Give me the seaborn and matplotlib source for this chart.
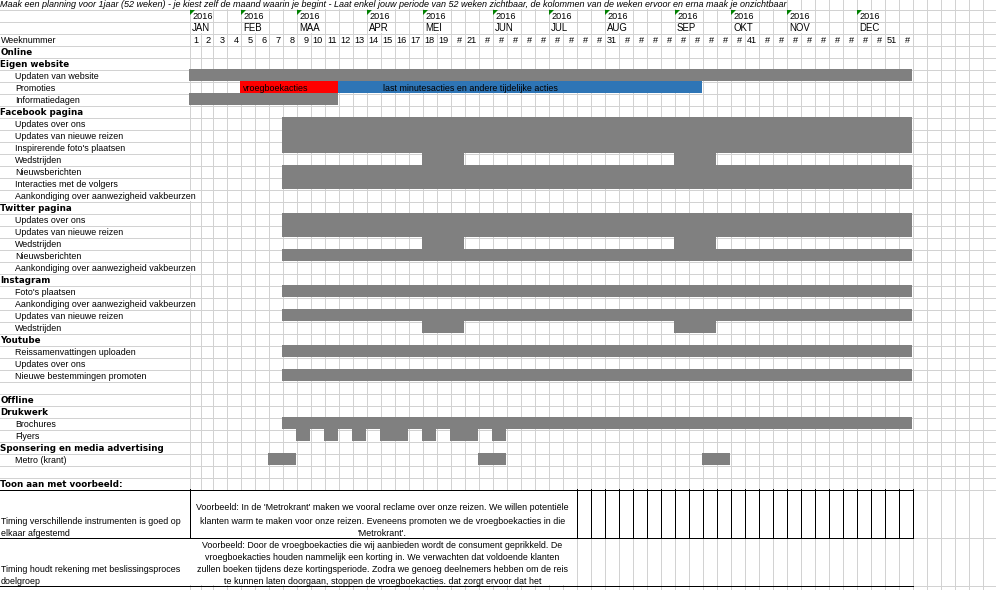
import numpy as np
import pandas as pd
import matplotlib
matplotlib.use("Agg")
import matplotlib.pyplot as plt
from matplotlib.colors import ListedColormap
from matplotlib.collections import LineCollection
import seaborn as sns

# ---------------- data ----------------
title = ("Maak een planning voor 1jaar (52 weken) - je kiest zelf de maand waarin je begint - "
         "Laat enkel jouw periode van 52 weken zichtbaar, de kolommen van de weken ervoor en erna maak je onzichtbaar")
year_label = "2016"
months = ["JAN", "FEB", "MAA", "APR", "MEI", "JUN", "JUL", "AUG", "SEP", "OKT", "NOV", "DEC"]
month_start_week = [1, 5, 9, 14, 18, 23, 27, 31, 36, 40, 44, 49]
weeks = list(range(1, 53))
week_labels = ([str(w) for w in range(1, 20)] + ["#", "21"] + ["#"] * 9 + ["31"] + ["#"] * 9
               + ["41"] + ["#"] * 9 + ["51", "#"])
week_header = "Weeknummer"

activity_labels = [
    "Online", "Eigen website", "Updaten van website", "Promoties", "Informatiedagen",
    "Facebook pagina", "Updates over ons", "Updates van nieuwe reizen", "Inspirerende foto's plaatsen",
    "Wedstrijden", "Nieuwsberichten", "Interacties met de volgers",
    "Aankondiging over aanwezigheid vakbeurzen",
    "Twitter pagina", "Updates over ons", "Updates van nieuwe reizen", "Wedstrijden", "Nieuwsberichten",
    "Aankondiging over aanwezigheid vakbeurzen",
    "Instagram", "Foto's plaatsen", "Aankondiging over aanwezigheid vakbeurzen", "Updates van nieuwe reizen",
    "Wedstrijden",
    "Youtube", "Reissamenvattingen uploaden", "Updates over ons", "Nieuwe bestemmingen promoten",
    "",
    "Offline", "Drukwerk", "Brochures", "Flyers", "Sponsering en media advertising", "Metro (krant)",
    "",
]
activity_kind = [
    "h", "h", "i", "i", "i",
    "h", "i", "i", "i", "i", "i", "i", "i",
    "h", "i", "i", "i", "i", "i",
    "h", "i", "i", "i", "i",
    "h", "i", "i", "i",
    "",
    "h", "h", "i", "i", "h", "i",
    "",
]
activity_spans = [
    [], [], [(1, 52)], [], [(1, 11)],
    [], [(8, 52)], [(8, 52)], [(8, 52)], [(18, 20), (36, 38)], [(8, 52)], [(8, 52)], [],
    [], [(8, 52)], [(8, 52)], [(18, 20), (36, 38)], [(8, 52)], [],
    [], [(8, 52)], [], [(8, 52)], [(18, 20), (36, 38)],
    [], [(8, 52)], [], [(8, 52)],
    [],
    [], [], [(8, 52)], [(9, 9), (11, 11), (13, 13), (15, 16), (18, 18), (20, 21), (23, 23)],
    [], [(7, 8), (22, 23), (38, 39)],
    [],
]
promo_row_label = "Promoties"
promo_early_weeks = (5, 11)
promo_early_text = "vroegboekacties"
promo_late_weeks = (12, 37)
promo_late_text = "last minutesacties en andere tijdelijke acties"
promo_late_text_week = 15

example_header = "Toon aan met voorbeeld:"
criteria = [["Timing verschillende instrumenten is goed op", "elkaar afgestemd"],
            ["Timing houdt rekening met beslissingsproces", "doelgroep"]]
examples = [
    ["Voorbeeld: In de 'Metrokrant' maken we vooral reclame over onze reizen. We willen potentiële",
     "klanten warm te maken voor onze reizen. Eveneens promoten we de vroegboekacties in die",
     "'Metrokrant'."],
    ["Voorbeeld: Door de vroegboekacties die wij aanbieden wordt de consument geprikkeld. De",
     "vroegboekacties houden nammelijk een korting in. We verwachten dat voldoende klanten",
     "zullen boeken tijdens deze kortingsperiode. Zodra we genoeg deelnemers hebben om de reis",
     "te kunnen laten doorgaan, stoppen de vroegboekacties. dat zorgt ervoor dat het"],
]

# ---------------- style ----------------
GRAY, RED, BLUE = "#808080", "#FF0000", "#2E75B6"
GRID = "#D2D2D2"
GREEN = "#008000"
sns.set_theme(style="white")
plt.rcParams["font.family"] = ["Liberation Sans", "DejaVu Sans"]
FS = 6.4
FSB = 6.3

W, H = 996, 590
fig = plt.figure(figsize=(W / 100, H / 100), dpi=100)
fig.patch.set_facecolor("white")

# layout (pixel grid of the sheet)
L = [189, 200] + [212 + 14 * i for i in range(0, 57)]   # vertical line pixels; week w spans L[w-1]..L[w]


def R(k):  # top line pixel of sheet row k (k>=1)
    return 9 + 12 * (k - 1)


FIRST_ACT_ROW = 4
n_act = len(activity_labels)
TOON_ROW = FIRST_ACT_ROW + n_act          # row 40
T1 = (R(TOON_ROW + 1), R(TOON_ROW + 1) + 48)
T2 = (T1[1], T1[1] + 48)

ax0 = fig.add_axes([0, 0, 1, 1], zorder=0)
ax0.set_xlim(0, W); ax0.set_ylim(H, 0); ax0.axis("off")

# ---------------- heatmap of the planning cells ----------------
grid = np.zeros((n_act, len(weeks)))
for i, spans in enumerate(activity_spans):
    for a, b in spans:
        grid[i, a - 1:b] = 1
pi = activity_labels.index(promo_row_label)
grid[pi, promo_early_weeks[0] - 1:promo_early_weeks[1]] = 2
grid[pi, promo_late_weeks[0] - 1:promo_late_weeks[1]] = 3
df = pd.DataFrame(grid, index=[f"{i}:{s}" for i, s in enumerate(activity_labels)], columns=weeks)

x0, x1 = L[0], L[len(weeks)]
y0, y1 = R(FIRST_ACT_ROW), R(TOON_ROW)
axh = fig.add_axes([x0 / W, 1 - y1 / H, (x1 - x0) / W, (y1 - y0) / H], zorder=1)
sns.heatmap(df, mask=(df == 0), cmap=ListedColormap([GRAY, RED, BLUE]), vmin=0.5, vmax=3.5,
            cbar=False, xticklabels=False, yticklabels=False, linewidths=0, ax=axh)
idx_pts = np.arange(len(weeks) + 1, dtype=float)
px_pts = np.array(L[:len(weeks) + 1], dtype=float) - L[0]
axh.set_xscale("function", functions=(lambda v: np.interp(v, idx_pts, px_pts),
                                       lambda p: np.interp(p, px_pts, idx_pts)))
axh.set_xlim(0, len(weeks)); axh.set_ylim(n_act, 0)
axh.axis("off")

# ---------------- text overlay ----------------
ax1 = fig.add_axes([0, 0, 1, 1], zorder=2)
ax1.set_xlim(0, W); ax1.set_ylim(H, 0); ax1.axis("off")
row_texts = []


def put(row, x, y, s, **kw):
    kw.setdefault("fontsize", FS)
    kw.setdefault("va", "baseline")
    t = ax1.text(x, y, s, color="black", **kw)
    if row is not None:
        row_texts.append((row, t))
    return t


put(0, 0, 7.3, title, style="italic", fontsize=6.5)
for m, w in zip(months, month_start_week):
    lx = L[w - 1]
    put(1, lx + 3.5, R(1) + 10, year_label, fontsize=6.6)
    put(2, lx + 3, R(2) + 10, m, fontsize=6.9)
    ax1.fill([lx + 1, lx + 6, lx + 1], [R(1) + 1, R(1) + 1, R(1) + 6], color=GREEN, lw=0)
put(3, 0.5, R(3) + 10, week_header)
for w, lab in zip(weeks, week_labels):
    put(3, L[w] - 1.5, R(3) + 10, lab, ha="right", fontsize=6.6)

for i, (lab, kind) in enumerate(zip(activity_labels, activity_kind)):
    k = FIRST_ACT_ROW + i
    if kind == "h":
        put(k, 0.5, R(k) + 10, lab, family="DejaVu Sans", fontweight="bold", fontsize=FSB)
    elif kind == "i":
        put(k, 15, R(k) + 10, lab)
kp = FIRST_ACT_ROW + pi
put(None, L[promo_early_weeks[0] - 1] + 3.3, R(kp) + 10, promo_early_text)
put(None, L[promo_late_text_week - 1] + 3, R(kp) + 10, promo_late_text)
put(TOON_ROW, 0.5, R(TOON_ROW) + 10, example_header, family="DejaVu Sans", fontweight="bold", fontsize=FSB)

# table texts
xc = (L[0] + L[28]) / 2
t1_base = [510.5, 523.5, 536.3]
t2_base = [547.5, 559.5, 571.5, 583.5]
for j, line in enumerate(criteria[0]):
    put(None, 1, t1_base[len(t1_base) - len(criteria[0]) + j], line)
for j, line in enumerate(examples[0]):
    put(None, xc, t1_base[j], line, ha="center")
for j, line in enumerate(criteria[1]):
    put(None, 1, t2_base[len(t2_base) - len(criteria[1]) + j], line)
for j, line in enumerate(examples[1]):
    put(None, xc, t2_base[j], line, ha="center")

# ---------------- gridlines (hidden where text overflows) ----------------
fig.canvas.draw()
rend = fig.canvas.get_renderer()
extents = {}
for row, t in row_texts:
    bb = t.get_window_extent(rend)
    extents.setdefault(row, []).append((bb.x0, bb.x1))

vsegs = []
for k in range(0, TOON_ROW + 1):
    top = 0 if k == 0 else R(k)
    bot = R(k + 1)
    for lx in L:
        if lx > W:
            continue
        hidden = any(a < lx and b > lx + 1 for a, b in extents.get(k, []))
        if not hidden:
            vsegs.append(((lx + 0.5, top), (lx + 0.5, bot)))
for lx in L:
    if lx > W:
        continue
    if lx > L[52]:
        vsegs.append(((lx + 0.5, T1[0]), (lx + 0.5, T1[1])))
    if lx >= L[28]:
        vsegs.append(((lx + 0.5, T2[0]), (lx + 0.5, T2[1])))
    vsegs.append(((lx + 0.5, T2[1]), (lx + 0.5, H)))
hsegs = [((0, R(k) + 0.5), (W, R(k) + 0.5)) for k in range(1, TOON_ROW + 1)]
for yb in (T1[0], T1[1], T2[1]):
    hsegs.append(((L[52] + 1, yb + 0.5), (W, yb + 0.5)))
ax0.add_collection(LineCollection(vsegs + hsegs, colors=GRID, linewidths=0.72, antialiased=False))

# black table borders
bsegs = [((0, yb + 0.5), (L[52] + 1, yb + 0.5)) for yb in (T1[0], T1[1], T2[1])]
for lx in [L[0]] + L[28:53]:
    bsegs.append(((lx + 0.5, T1[0]), (lx + 0.5, T1[1])))
ax1.add_collection(LineCollection(bsegs, colors="black", linewidths=0.72, antialiased=False))

fig.savefig("out.png", dpi=100, facecolor="white")
